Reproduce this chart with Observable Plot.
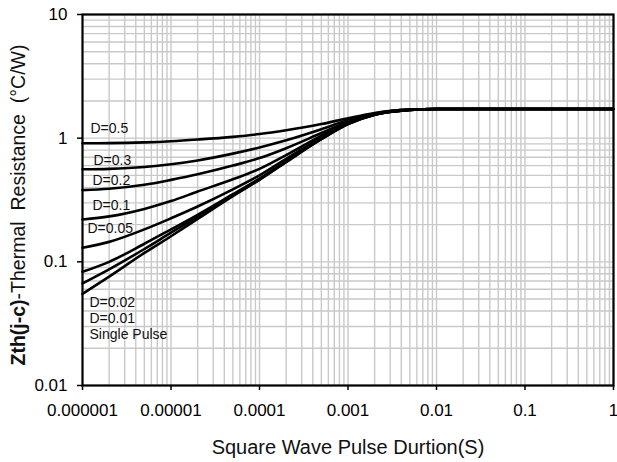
<!DOCTYPE html>
<html><head><meta charset="utf-8">
<script src="https://cdn.jsdelivr.net/npm/d3@7"></script>
<script src="https://cdn.jsdelivr.net/npm/@observablehq/plot@0.6"></script>
<style>
body{margin:0;background:#fff}
#chart svg{font-family:"Liberation Sans",Arial,sans-serif}
</style>
</head><body><div id="chart"></div>
<script>
// ---- data ----
const pulseWidth = [1e-6, 2e-6, 5e-6, 1e-5, 2e-5, 5e-5, 1e-4, 2e-4, 5e-4, 1e-3, 2e-3, 5e-3, 1e-2, 1e-1, 1];
const seriesNames = ["D=0.5", "D=0.3", "D=0.2", "D=0.1", "D=0.05", "D=0.02", "D=0.01", "Single Pulse"];
const zthD05 = [0.91, 0.912, 0.925, 0.945, 0.975, 1.025, 1.08, 1.16, 1.3, 1.45, 1.6, 1.7, 1.72, 1.72, 1.72];
const zthD03 = [0.56, 0.565, 0.585, 0.615, 0.66, 0.75, 0.84, 0.96, 1.18, 1.4, 1.58, 1.7, 1.72, 1.72, 1.72];
const zthD02 = [0.38, 0.39, 0.42, 0.46, 0.51, 0.6, 0.69, 0.83, 1.1, 1.36, 1.57, 1.7, 1.72, 1.72, 1.72];
const zthD01 = [0.22, 0.233, 0.268, 0.31, 0.37, 0.465, 0.565, 0.73, 1.05, 1.34, 1.56, 1.69, 1.72, 1.72, 1.72];
const zthD005 = [0.13, 0.145, 0.183, 0.225, 0.28, 0.385, 0.5, 0.68, 1.01, 1.32, 1.55, 1.69, 1.72, 1.72, 1.72];
const zthD002 = [0.083, 0.1, 0.14, 0.183, 0.24, 0.352, 0.47, 0.65, 0.99, 1.31, 1.55, 1.69, 1.72, 1.72, 1.72];
const zthD001 = [0.067, 0.087, 0.127, 0.172, 0.232, 0.345, 0.465, 0.645, 0.985, 1.3, 1.55, 1.69, 1.72, 1.72, 1.72];
const zthSingle = [0.055, 0.076, 0.118, 0.161, 0.222, 0.34, 0.46, 0.64, 0.98, 1.3, 1.55, 1.69, 1.72, 1.72, 1.72];
const xTicks = [1e-6, 1e-5, 1e-4, 1e-3, 1e-2, 1e-1, 1];
const xTickLabels = ["0.000001", "0.00001", "0.0001", "0.001", "0.01", "0.1", "1"];
const yTicks = [0.01, 0.1, 1, 10];
const yTickLabels = ["0.01", "0.1", "1", "10"];
const xTitle = "Square Wave Pulse Durtion(S)";
const yTitleBold = "Zth(j-c)";
const yTitleRest = "-Thermal  Resistance  (°C/W)";

// ---- label style offsets (px) ----
const labelDx = [8, 11, 10, 10, 5, 7, 7, 7];
const labelDy = [-10, -4, -5, -9, -15, 35, 40, 45];

const seriesValues = [zthD05, zthD03, zthD02, zthD01, zthD005, zthD002, zthD001, zthSingle];
const table = [];
seriesNames.forEach((name, s) => {
  pulseWidth.forEach((t, i) => table.push({series: name, t, z: seriesValues[s][i]}));
});

// grid values (1..9 per decade)
const xGrid = [];
for (let e = -6; e < 0; e++) for (let k = 1; k <= 9; k++) xGrid.push(k * Math.pow(10, e));
xGrid.push(1);
const yGrid = [];
for (let e = -2; e < 1; e++) for (let k = 1; k <= 9; k++) yGrid.push(k * Math.pow(10, e));
yGrid.push(10);

const labelMarks = seriesNames.map((name, s) =>
  Plot.text([{t: pulseWidth[0], z: seriesValues[s][0], label: name}], {
    x: "t", y: "z", text: "label", textAnchor: "start", lineAnchor: "bottom",
    dx: labelDx[s], dy: labelDy[s], fontSize: 14, fill: "#111"
  })
);

const chart = Plot.plot({
  width: 617,
  height: 462,
  marginLeft: 82,
  marginRight: 4,
  marginTop: 14,
  marginBottom: 77,
  style: {fontFamily: "Liberation Sans, Arial, sans-serif", background: "white", color: "black"},
  x: {type: "log", domain: [1e-6, 1]},
  y: {type: "log", domain: [0.01, 10]},
  marks: [
    Plot.ruleX(xGrid, {stroke: "#c9c9c9", strokeWidth: 1.4}),
    Plot.ruleY(yGrid, {stroke: "#c9c9c9", strokeWidth: 1.4}),
    Plot.line(table, {x: "t", y: "z", z: "series", stroke: "black", strokeWidth: 2.6, curve: "monotone-x"}),
    ...labelMarks,
    Plot.frame({stroke: "black", strokeWidth: 2.2}),
    Plot.axisX(xTicks, {tickSize: 5, tickPadding: 13, fontSize: 17, strokeWidth: 1.5,
      tickFormat: d => xTickLabels[xTicks.indexOf(d)], label: null}),
    Plot.axisY(yTicks, {tickSize: 5, tickPadding: 10, fontSize: 17, strokeWidth: 1.5,
      tickFormat: d => yTickLabels[yTicks.indexOf(d)], label: null}),
    Plot.text([xTitle], {frameAnchor: "bottom", dy: 68, lineAnchor: "bottom", fontSize: 20, fill: "#111"})
  ]
});

const yt = d3.select(chart).append("text")
  .attr("transform", "translate(25,205) rotate(-90)")
  .attr("text-anchor", "middle")
  .attr("font-size", 19.5)
  .attr("fill", "#111")
  .attr("xml:space", "preserve")
  .style("white-space", "pre");
yt.append("tspan").attr("font-weight", "bold").text(yTitleBold);
yt.append("tspan").text(yTitleRest);

document.getElementById("chart").appendChild(chart);
</script>
</body></html>
